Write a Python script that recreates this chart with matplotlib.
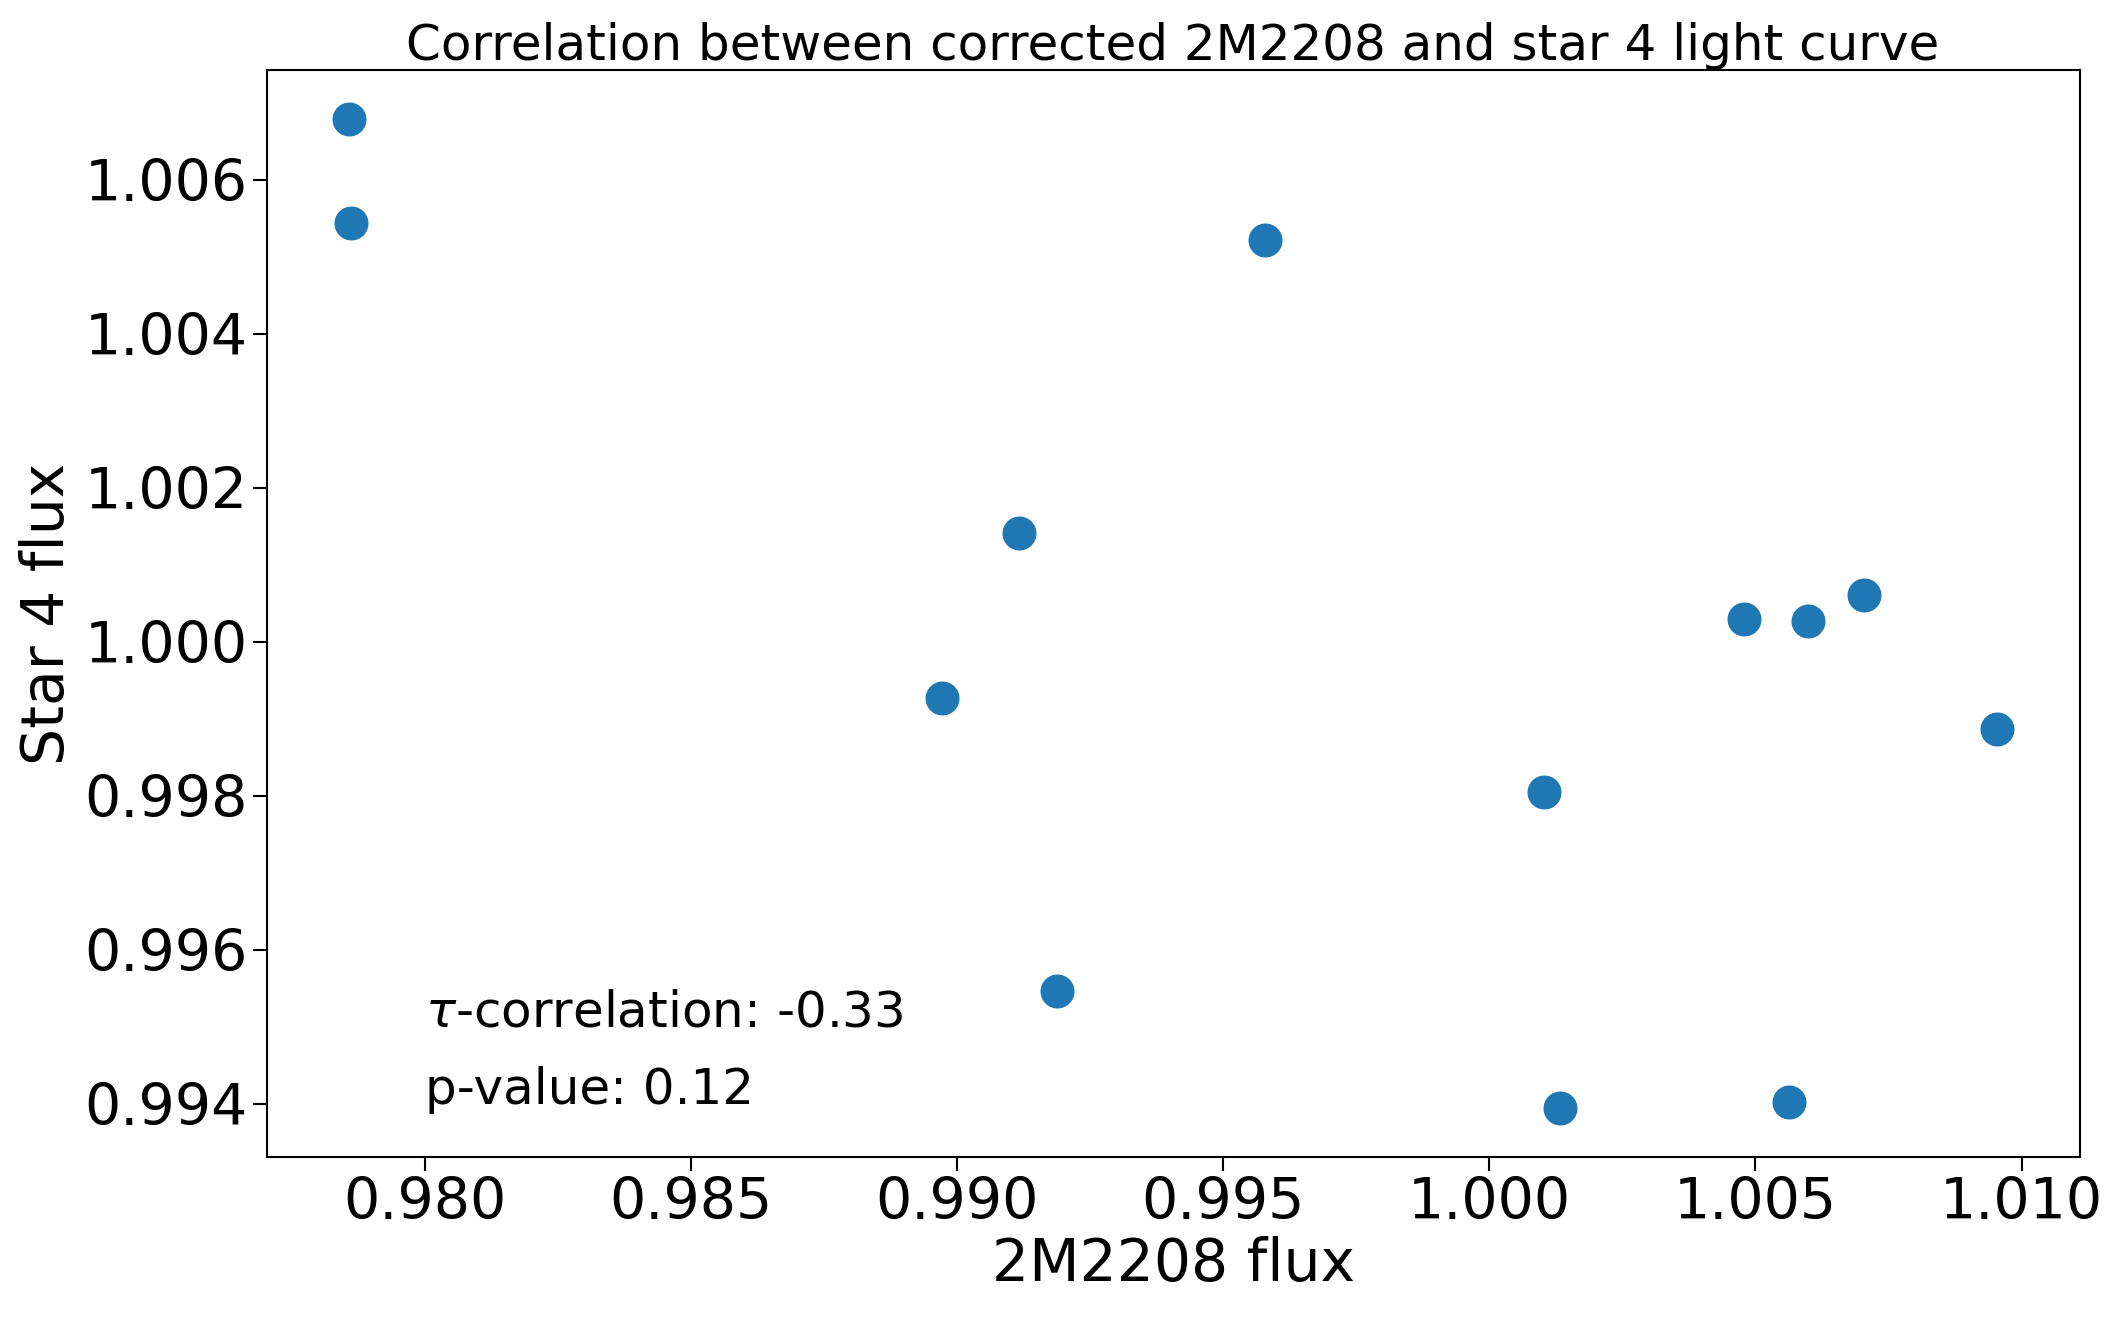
import matplotlib
matplotlib.use("Agg")
import matplotlib.pyplot as plt

target_flux = [0.97858, 0.97861, 0.99579, 0.99116, 0.98972, 0.99188, 1.00103,
               1.00133, 1.00479, 1.00598, 1.00703, 1.00954, 1.00563]
star4_flux = [1.00678, 1.00544, 1.00521, 1.00141, 0.99927, 0.99547, 0.99805,
              0.99395, 1.00029, 1.00027, 1.00060, 0.99886, 0.99402]
tau = -0.33
pval = 0.12

fig = plt.figure(figsize=(21.22, 13.17), dpi=100)
ax = fig.add_axes([0.1256, 0.1215, 0.8544, 0.8253])
ax.scatter(target_flux, star4_flux, s=550, color="#1f77b4")
ax.set_title("Correlation between corrected 2M2208 and star 4 light curve", fontsize=36)
ax.set_xlabel("2M2208 flux", fontsize=42, labelpad=4)
ax.set_ylabel("Star 4 flux", fontsize=42, labelpad=6)
ax.tick_params(labelsize=41, length=10, width=1.5)
for s in ax.spines.values():
    s.set_linewidth(1.5)
ax.text(0.980, 0.995, r"$\tau$-correlation: %.2f" % tau, fontsize=36)
ax.text(0.980, 0.994, "p-value: %.2f" % pval, fontsize=36)
fig.savefig("out.png", dpi=100)
